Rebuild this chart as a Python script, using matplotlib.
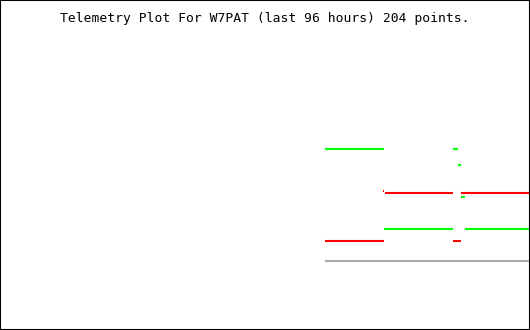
import matplotlib
matplotlib.use("Agg")
import matplotlib.pyplot as plt

title = "Telemetry Plot For W7PAT (last 96 hours) 204 points."

# x in hours (0..96 spans the plot width), y is a relative level (0 top .. 330 bottom)
green_start = [58.87, 82.05, 82.96, 83.50, 69.55, 84.23]
green_end   = [69.55, 82.96, 83.50, 84.23, 82.05, 96.00]
green_level = [149.0, 149.0, 164.7, 196.7, 228.7, 228.7]

red_start = [69.35, 69.73, 83.50, 58.87, 82.05]
red_end   = [69.62, 82.05, 96.00, 69.55, 83.50]
red_level = [190.7, 192.7, 192.7, 240.7, 240.7]

gray_start = [58.87]
gray_end   = [96.00]
gray_level = [260.7]

fig = plt.figure(figsize=(5.3, 3.3), dpi=100)
ax = fig.add_axes([0, 0, 1, 1])
ax.set_xlim(0, 96)
ax.set_ylim(330, 0)
ax.set_xticks([])
ax.set_yticks([])
for s in ax.spines.values():
    s.set_color("black")
    s.set_linewidth(1.5)

lw = 1.5
ax.hlines(gray_level, gray_start, gray_end, colors="#aaaaaa", linewidth=lw)
ax.hlines(green_level, green_start, green_end, colors="#00ff00", linewidth=lw)
ax.hlines(red_level, red_start, red_end, colors="#ff0000", linewidth=lw)

ax.text(0.5, 1 - 18.5 / 330, title, transform=ax.transAxes, ha="center", va="center",
        fontsize=9.4, family="DejaVu Sans Mono", color="black")

fig.savefig("out.png", dpi=100)
